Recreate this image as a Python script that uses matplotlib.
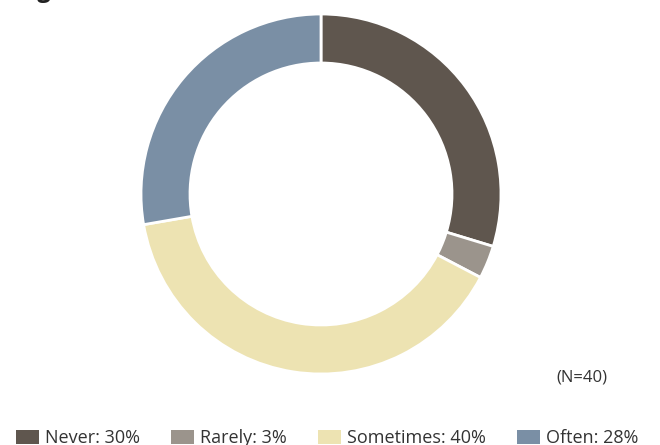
import matplotlib.pyplot as plt
from matplotlib.patches import Patch

# Response shares (percent), drawn clockwise from 12 o'clock
categories = ["Never", "Rarely", "Sometimes", "Often"]
shares = [30, 3, 40, 28]
colors = ["#5f564e", "#9b948c", "#ede3b2", "#7a8fa5"]
sample_note = "(N=40)"

plt.rcParams["font.family"] = ["Open Sans", "DejaVu Sans"]

fig = plt.figure(figsize=(6.6, 4.45), dpi=100)
ax = fig.add_axes([0, 0, 1, 1])

# ring centred at (321, 194) in image pixels, outer radius 180, band 49 wide
ax.pie(shares, colors=colors, startangle=90, counterclock=False,
       center=(321, 445 - 194), radius=180,
       wedgeprops=dict(width=49, edgecolor="white", linewidth=2))
ax.set_xlim(0, 660)
ax.set_ylim(0, 445)
ax.set_aspect("equal")
ax.axis("off")

# title sits mostly above the top edge, only the descender shows
fig.text(18 / 660, 1.0 + 3 / 445, "Figure", fontsize=17, fontweight="bold",
         color="#222222", ha="left", va="baseline")

fig.text(607 / 660, 1 - 377 / 445, sample_note, fontsize=12,
         color="#333333", ha="right", va="center")

handles = [Patch(facecolor=c, edgecolor="none") for c in colors]
labels = [f"{n}: {v}%" for n, v in zip(categories, shares)]
fig.legend(handles, labels, ncol=4, frameon=False, fontsize=13,
           loc="lower left", bbox_to_anchor=(12.5 / 660, -6 / 445),
           borderaxespad=0, borderpad=0.2,
           handlelength=1.28, handleheight=0.85, handletextpad=0.3,
           columnspacing=1.75, labelcolor="#333333")

fig.savefig("out.png", dpi=100)
